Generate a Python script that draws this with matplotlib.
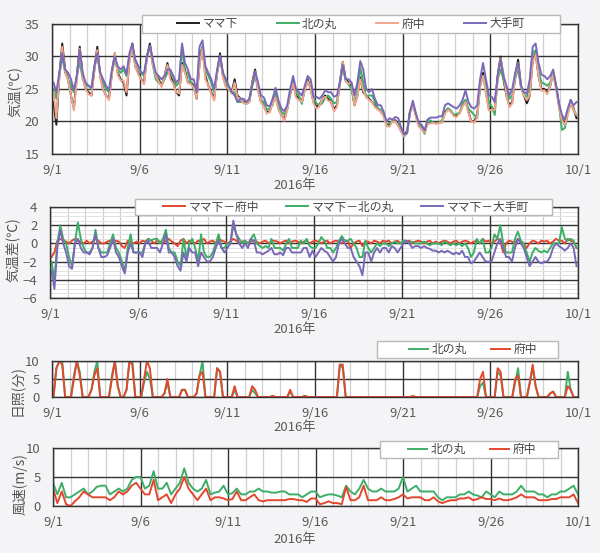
import numpy as np
import matplotlib
matplotlib.use('Agg')
import matplotlib.pyplot as plt
from matplotlib.ticker import MultipleLocator
from matplotlib.patches import Rectangle

plt.rcParams['font.family'] = ['Noto Sans CJK JP', 'DejaVu Sans']

date_labels = ['9/1', '9/6', '9/11', '9/16', '9/21', '9/26', '10/1']

# 4-hourly samples at 02,06,10,14,18,22h, one row per day (9/1 .. 9/30)
t_mama = [
    23, 19.5, 27, 32, 28, 26.5,
    24, 22, 27, 31.5, 27, 25,
    24.5, 24, 28, 31.5, 27, 25,
    24, 23.5, 27.5, 30.5, 27.5, 26.5,
    26, 24, 29.5, 32, 28.5, 27.5,
    26.5, 26, 30, 32, 29, 27,
    26.5, 25.5, 27, 29, 27, 26,
    24.5, 24, 29, 28, 26, 26,
    25.5, 23.5, 29, 31.5, 27, 25.5,
    24.5, 23.5, 27.5, 30.5, 27, 25.5,
    25, 24.5, 26.5, 24, 23.5, 23,
    23, 23, 26, 28, 25, 23,
    22.5, 21.5, 21.5, 23, 24, 22,
    21, 20.3, 22, 24.5, 26, 24,
    23.5, 23, 25, 26.5, 25, 23,
    22.3, 22.5, 23.5, 24, 23.5, 23,
    21.8, 22.5, 26, 29.2, 26.5, 26,
    25.5, 22.5, 24, 26.8, 24.5, 24,
    23.5, 23, 22.5, 22, 21.5, 21,
    19.5, 19.5, 20, 20.2, 19.5, 18.5,
    18, 18.5, 21.5, 22.7, 21, 19.5,
    19, 18.3, 19.8, 20, 19.8, 19.8,
    19.8, 20, 21.5, 22, 21.5, 21,
    21, 21.3, 22.5, 23.3, 21.5, 20,
    20, 21, 25.5, 27.5, 24.5, 22,
    21.8, 22, 27, 30, 26.5, 24,
    22.5, 23, 27, 29.5, 25.5, 24,
    22.8, 24, 29.5, 30.5, 27, 25,
    25, 24.5, 25.5, 27.5, 25.5, 22.5,
    20.5, 19.5, 21.5, 23.3, 22, 20.5,
]

# ママ下 minus 府中
d_fuchu = [
    -1.5, -1, 0.3, 0.5, 0.3, 0.2,
    0, 0.3, 0.5, 0.3, 0.2, 0,
    0.3, 0, 0.2, 0.5, 0.3, 0,
    0, 0.2, 0.3, 0, 0.3, 0.2,
    -0.3, -0.5, 0.3, 0.2, 0, 0.2,
    0, 0.3, 0.2, 0.5, 0.3, 0,
    0.3, 0.2, 0, 0.3, 0.5, 0.2,
    0, -0.3, 0.3, 0.5, 0, 0.3,
    0.2, 0, 0.3, 0.2, 0.5, 0,
    0.2, 0.3, 0, 0.5, 0.3, 0.2,
    0, 0.2, 0.5, 0.3, 0, 0.2,
    0.3, 0, 0.2, 0.3, 0.2, 0,
    0.2, 0.3, 0, 0.2, 0.3, 0.2,
    0, 0.2, 0.3, 0, 0.2, 0.3,
    0.2, 0, 0.2, 0.3, 0, 0.2,
    0.3, 0.2, 0, 0.2, 0.3, 0,
    0.2, 0.3, 0.2, 0, 0.3, 0.2,
    -0.5, 0, 0.2, 0.3, -0.3, 0.2,
    0.2, 0, 0.3, 0.2, 0, 0.3,
    0.2, 0.3, 0, 0.2, 0.3, 0,
    0.3, 0.2, 0.3, 0, 0.2, 0.3,
    0.2, 0, 0.2, 0.3, 0, 0.2,
    0, 0.2, 0.3, 0.2, 0, 0.2,
    0.3, 0, 0.2, 0.3, 0.2, 0,
    0.2, 0.3, 0, 0.5, 0.2, 0.3,
    0, 0.2, 0.5, 0.3, -1, 0,
    0.3, 0.2, 0, 0.5, 0.2, 0,
    -0.5, 0, 0.3, 0.2, 0, 0.3,
    0.2, 0.3, 0, 0.2, 0.5, 0.3,
    0.3, 0, 0.5, 0.3, 0.2, -0.5,
]

# ママ下 minus 北の丸
d_kita = [
    -2, -4, 0, 2, 0.5, 0,
    -1.5, -2.5, 0, 2.3, 0.5, -0.5,
    -1, -1, -0.5, 1.5, -0.5, -1,
    -1, -1, 0, 1, -0.5, -1,
    -2, -3, -0.5, 1, -1, -1,
    -1, -1, 0, 0.5, 0.3, 0.5,
    0.5, 0, 0.5, 1.5, -0.5, -1,
    -1, -2, -2.5, 0.5, -1.5, 0,
    0.5, -0.5, -2, 1, -1, -1.5,
    -1.5, -1, 0, 1, -0.5, -0.5,
    0, 0, 2, 1, 0.5, 0,
    0.3, 0, 0.5, 1, 0, -0.3,
    -0.5, -0.3, -0.5, 0.5, -0.5, -0.5,
    -0.5, -0.8, 0, 0.5, -0.5, -0.5,
    -0.5, 0.3, 0, 0.5, -0.3, -0.5,
    -0.5, 0, 0.7, 0.3, -0.5, -0.5,
    -1, -0.5, 0.3, 0.8, 0.3, 0.3,
    0.5, 0, -0.5, -1.5, -1.5, 0.3,
    -0.5, -1, -0.5, 0, -0.3, 0,
    0, -0.3, 0, 0.2, 0, 0,
    0.3, 0.3, 0, 0.2, 0, 0,
    0, 0.2, 0, -0.2, 0, 0,
    0, -0.2, 0.2, 0, -0.2, 0,
    -0.2, 0, -0.3, 0, -0.5, -1.5,
    -1, 0.5, 0, 0.5, -1, -1,
    -0.5, 1, 0.5, 2, 0, -1,
    -1, -1, 0.5, 1.3, 0.3, 0,
    -1, -2, -1, -0.5, -0.8, -1,
    -0.8, -1, -0.5, 0, 0, 0,
    1.8, 0.5, 0.3, 0.5, 0.3, -0.5,
]

# ママ下 minus 大手町
d_ote = [
    -3, -5, -0.5, 1.5, 0, -1,
    -2.5, -2.8, 0, 0.5, -0.5, -1,
    -1, -1.2, -0.5, 1, -0.5, -1.5,
    -1.5, -1.3, -0.5, 0.5, -1, -1.5,
    -2.5, -3.3, -1, 0, -1, -1,
    -1, -1.5, 0, 0.3, -0.5, -0.5,
    -0.5, -1, 0, 1, -1, -1,
    -1.5, -2.5, -3, -1, -2, -0.5,
    -1, -1, -2.5, -1, -1.5, -2,
    -2, -1.5, -0.5, 0.3, -0.5, -1,
    -0.5, 0, 2.5, 1, 0, -0.5,
    0, -0.5, 0.5, 0.3, -1, -1,
    -1.2, -1, -0.8, -0.5, -1.2, -1.2,
    -1, -1.3, -0.5, -0.5, -1, -1,
    -1, -1, -0.5, -0.5, -1.5, -0.8,
    -1.5, -1, -0.5, -0.8, -1, -1.5,
    -2, -1.5, 0, 0.5, 0, -0.5,
    -0.5, -1.5, -2, -2.5, -3.5, -1,
    -1, -2, -1, -0.5, -1, -0.5,
    -0.5, -1, -0.3, -0.5, -1, -0.5,
    0, 0.3, 0, -0.5, -0.3, -0.3,
    -0.5, -0.3, -0.5, -0.6, -0.8, -0.8,
    -1, -0.8, -1, -0.8, -1, -1.2,
    -1, -1.2, -0.8, -1.5, -1.5, -2.2,
    -2, -1.5, -1, -1.5, -2, -2,
    -2, -1, 0, 0.5, -0.5, -1.5,
    -1.5, -2, -0.5, 0.5, 0, -0.5,
    -1.5, -2.5, -2, -1.5, -2, -2.2,
    -2, -2, -1.5, -0.5, 0, -0.3,
    -0.5, -0.8, -0.5, 0, -0.5, -2.5,
]

# sunshine (min per 10 min), same 4-hourly slots
sun_kita = [
    0, 8, 10, 10, 0, 0,
    0, 6, 10, 7, 0, 0,
    0, 2, 7, 10, 0, 0,
    0, 0, 6, 10, 3, 0,
    0, 2, 10, 10, 0, 0,
    0, 4, 7, 5, 0, 0,
    0, 0, 1, 4, 0, 0,
    0, 0, 2, 2, 0, 0,
    0, 1, 6, 10, 0, 0,
    0, 0, 8, 7, 0, 0,
    0, 0, 2, 0, 0, 0,
    0, 0, 2, 1, 0, 0,
    0, 0, 0, 0.2, 0, 0,
    0, 0, 0, 1.5, 0, 0,
    0, 0, 0.3, 0, 0, 0,
    0, 0, 0, 0, 0, 0,
    0, 0, 9, 8, 0, 0,
    0, 0, 0, 0, 0, 0,
    0, 0, 0, 0, 0, 0,
    0, 0, 0, 0, 0, 0,
    0, 0, 0, 0, 0, 0,
    0, 0, 0, 0, 0, 0,
    0, 0, 0, 0, 0, 0,
    0, 0, 0, 0, 0, 0,
    0, 0, 3, 4, 0, 0,
    0, 0, 7, 6, 0, 0,
    0, 0, 4, 8, 0, 0,
    0, 4, 8, 3, 0, 0,
    0, 0, 1, 1.5, 0, 0,
    0, 0, 7, 2, 0, 0,
]

sun_fuchu = [
    0, 8, 10, 9, 0, 0,
    0, 5, 10, 6, 0, 0,
    0, 2, 6, 8, 0, 0,
    0, 0, 5, 10, 3, 0,
    0, 2, 10, 9, 0, 0,
    0, 5, 10, 8, 0, 0,
    0, 0, 1, 5, 0, 0,
    0, 0, 2, 2, 0, 0,
    0, 1, 6, 7, 0, 0,
    0, 0, 8, 7, 0, 0,
    0, 0, 3, 0, 0, 0,
    0, 0, 3, 2, 0, 0,
    0, 0, 0, 0.3, 0, 0,
    0, 0, 0, 2, 0, 0,
    0, 0, 0.3, 0, 0, 0,
    0, 0, 0, 0, 0, 0,
    0, 0, 9, 9, 0, 0,
    0, 0, 0, 0, 0, 0,
    0, 0, 0, 0, 0, 0,
    0, 0, 0, 0, 0, 0,
    0, 0, 0, 0.3, 0, 0,
    0, 0, 0, 0, 0, 0,
    0, 0, 0, 0, 0, 0,
    0, 0, 0, 0, 0, 0,
    0, 0, 5, 7, 0, 0,
    0, 0, 8, 7, 0, 0,
    0, 0, 5, 6, 0, 0,
    0, 4, 9, 3, 0, 0,
    0, 0, 1, 1.5, 0, 0,
    0, 0, 3, 2, 0, 0,
]

# wind speed, 6-hourly at 00,06,12,18h plus 10/1 00h
wind_kita = [
    4, 2, 4, 1.5,
    1.5, 2, 2.5, 3,
    2, 2.5, 3.3, 3.5,
    3.5, 2, 2.5, 3,
    2.5, 3, 4.5, 5,
    5, 3, 3.5, 6,
    3, 3, 4, 2,
    3, 4, 6.5, 4,
    3, 2.5, 3, 4.5,
    2, 2.3, 2.5, 3.5,
    2, 2.2, 3, 2,
    2, 2.5, 2.5, 3,
    2.5, 2.5, 2.3, 2.3,
    2.5, 2.5, 2, 2,
    2, 1.5, 2, 2.5,
    2.5, 1.5, 1.8, 2,
    2, 1.8, 1.5, 3.5,
    2.5, 2, 3, 4.5,
    3, 2.5, 2.5, 3,
    2.5, 2.5, 2.5, 3,
    5, 2.5, 3, 3.5,
    2.5, 2.5, 2.5, 2.5,
    1.5, 1, 1.5, 1.5,
    1.5, 2, 2, 2.5,
    2, 1.8, 1.5, 2.5,
    2, 1.5, 2.5, 2,
    2, 2, 2.5, 3.5,
    2.5, 2.5, 2.5, 2,
    2, 1.5, 2, 2,
    2.5, 2.5, 3, 3.5,
    2,
]

wind_fuchu = [
    3, 0.5, 2.5, 0.3,
    0, 0.8, 1.5, 2.5,
    2, 1.5, 1.5, 1.5,
    1.5, 1, 1.5, 2.5,
    2, 2.5, 3.5, 4,
    3, 2, 2, 4.5,
    1, 1.5, 2, 0.5,
    2, 3, 5, 3,
    2, 1, 2, 3,
    1, 1.5, 1.5, 1.3,
    1, 1.2, 2.5, 1,
    1, 1.5, 2, 1,
    0.8, 1, 1, 1,
    1, 1, 1.2, 1.2,
    1, 1, 0.7, 1.3,
    1.3, 0.3, 0.5, 0.8,
    0.5, 0.5, 0.3, 3.3,
    1, 1, 1.5, 3.5,
    1, 1, 1, 1.5,
    1, 1, 1.2, 1.5,
    2, 1.3, 1.5, 1.5,
    1.5, 1, 1, 1.5,
    0.8, 0.5, 0.8, 1,
    1, 1.3, 1.3, 1.5,
    1, 1.2, 1.5, 1.2,
    1.2, 1, 1.3, 1,
    1, 1.2, 1.5, 2,
    1.5, 1.5, 1.5, 1,
    1, 1, 1.2, 1.2,
    1.5, 1.5, 1.5, 2,
    0.5,
]

t4 = (np.arange(len(t_mama)) * 4 + 2) / 24.0
t6 = np.arange(len(wind_kita)) * 6 / 24.0

mama = np.array(t_mama)
kita = mama - np.array(d_kita)
fuchu = mama - np.array(d_fuchu)
ote = mama - np.array(d_ote)

c_black = '#1e1e1e'
c_green = '#3dae68'
c_salmon = '#f2a58c'
c_purple = '#7a68b8'
c_red = '#e3472e'
tick_col = '#5a5a5a'

W, H = 600, 553
fig = plt.figure(figsize=(6.0, 5.53), dpi=100, facecolor='#f4f4f6')


def make_ax(x0, y0, x1, y1):
    return fig.add_axes([x0 / W, 1 - y1 / H, (x1 - x0) / W, (y1 - y0) / H])


def style(ax, ylo, yhi, ystep, yminor=None):
    ax.set_facecolor('white')
    ax.set_xlim(0, 30)
    ax.set_ylim(ylo, yhi)
    ax.set_xticks(range(0, 31, 5), date_labels)
    ax.xaxis.set_minor_locator(MultipleLocator(1))
    ax.yaxis.set_major_locator(MultipleLocator(ystep))
    # light day lines (and fine y lines) underneath, dark major lines on top of them
    ax.grid(which='minor', axis='x', color='#cfcfcf', lw=0.9)
    if yminor:
        ax.yaxis.set_minor_locator(MultipleLocator(yminor))
        ax.grid(which='minor', axis='y', color='#e2e2e2', lw=0.7)
    for x in range(0, 31, 5):
        ax.axvline(x, color='#333333', lw=1.0, zorder=1)
    for y in np.arange(ylo, yhi + 0.01, ystep):
        ax.axhline(y, color='#333333', lw=1.0, zorder=1)
    ax.tick_params(which='both', length=0, labelsize=9.5, labelcolor=tick_col)
    ax.tick_params(axis='x', pad=7)
    ax.tick_params(axis='y', pad=9)
    for s in ax.spines.values():
        s.set_color('#333333')
        s.set_linewidth(1.0)
    ax.set_axisbelow(True)


def legend(handles, labels, box, cx, ncol, hlen, spacing):
    x0, y0, x1, y1 = box
    fig.patches.append(Rectangle((x0 / W, 1 - y1 / H), (x1 - x0) / W, (y1 - y0) / H,
                                 transform=fig.transFigure, facecolor='white',
                                 edgecolor='#b8b8b8', lw=1.0, zorder=4))
    fig.legend(handles, labels, loc='center',
               bbox_to_anchor=(cx / W, 1 - (y0 + y1) / 2 / H),
               ncol=ncol, frameon=False, fontsize=8.5, handlelength=hlen,
               handletextpad=0.3, columnspacing=spacing, borderpad=0.1,
               labelcolor='#444444')


def year_label(y):
    fig.text(295 / W, 1 - y / H, '2016年', ha='center', va='center',
             fontsize=9.5, color=tick_col)


def ylab(x, y, s):
    fig.text(x / W, 1 - y / H, s, rotation=90, ha='center', va='center',
             fontsize=10, color='#555555')


# panel 1: air temperature
ax1 = make_ax(52, 24, 578, 154)
style(ax1, 15, 35, 5)
l1, = ax1.plot(t4, mama, color=c_black, lw=1.4)
l2, = ax1.plot(t4, kita, color=c_green, lw=1.4)
l3, = ax1.plot(t4, fuchu, color=c_salmon, lw=1.4)
l4, = ax1.plot(t4, ote, color=c_purple, lw=1.4)
legend([l1, l2, l3, l4], ['ママ下', '北の丸', '府中', '大手町'],
       (142, 15, 560, 33), 351, 4, 1.85, 3.3)
year_label(186)
ylab(15, 92, '気温(℃)')

# panel 2: temperature difference
ax2 = make_ax(50, 207, 578, 298)
style(ax2, -6, 4, 2, yminor=0.5)
m1, = ax2.plot(t4, d_fuchu, color=c_red, lw=1.4)
m2, = ax2.plot(t4, d_kita, color=c_green, lw=1.4)
m3, = ax2.plot(t4, d_ote, color=c_purple, lw=1.4)
legend([m1, m2, m3], ['ママ下－府中', 'ママ下－北の丸', 'ママ下－大手町'],
       (135, 199, 552, 215), 346, 3, 1.85, 2.3)
year_label(330)
ylab(13, 250, '気温差(℃)')

# panel 3: sunshine
ax3 = make_ax(52, 361, 578, 397)
style(ax3, 0, 10, 5)
s1, = ax3.plot(t4, sun_kita, color=c_green, lw=1.4)
s2, = ax3.plot(t4, sun_fuchu, color=c_red, lw=1.4)
legend([s1, s2], ['北の丸', '府中'], (377, 341, 558, 358), 473, 2, 1.6, 2.1)
year_label(427)
ylab(17, 391, '日照(分)')

# panel 4: wind speed
ax4 = make_ax(53, 448, 578, 506)
style(ax4, 0, 10, 5)
w1, = ax4.plot(t6, wind_kita, color=c_green, lw=1.4)
w2, = ax4.plot(t6, wind_fuchu, color=c_red, lw=1.4)
legend([w1, w2], ['北の丸', '府中'], (380, 441, 558, 458), 472, 2, 1.6, 2.1)
year_label(539)
ylab(20, 484, '風速(m/s)')

fig.savefig('out.png', dpi=100, facecolor=fig.get_facecolor())
